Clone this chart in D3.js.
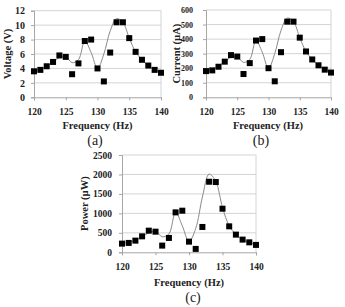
<!DOCTYPE html>
<html>
<head>
<meta charset="utf-8">
<script src="https://cdn.jsdelivr.net/npm/d3@7"></script>
<style>
  body { margin: 0; background: #fff; }
  svg { display: block; }
  text { font-family: "Liberation Serif", "Times New Roman", serif; fill: #222; }
</style>
</head>
<body>
<svg id="chart" width="345" height="307"></svg>
<script>
const freq = [120,121,122,123,124,125,126,127,128,129,130,131,132,133,134,135,136,137,138,139,140];

// medidas (quadrados)
const voltage = [3.6,3.8,4.3,4.9,5.8,5.6,3.2,4.7,7.8,8.0,4.0,2.2,6.2,10.4,10.4,8.2,6.3,5.2,4.4,3.8,3.4];
const current = [180,185,210,245,290,280,160,235,390,400,200,110,310,520,520,410,315,260,220,190,170];
const power = [223,241,300,410,556,530,172,369,1026,1069,274,87,651,1813,1805,1120,667,454,326,256,190];

// curvas ajustadas
const voltageFit = [3.7,3.9,4.3,4.9,5.5,5.6,4.8,5.2,7.8,6.2,4.0,6.0,9.2,10.9,10.4,8.2,6.3,5.2,4.4,3.8,3.4];
const currentFit = [185,195,215,245,275,280,240,260,390,310,200,300,460,545,520,410,315,260,220,190,170];
const powerFit = [235,260,310,400,500,540,400,470,1030,680,275,610,1420,2010,1820,1150,680,460,330,250,200];

const xTicks = [120,125,130,135,140];
const voltageTicks = [0,2,4,6,8,10,12];
const currentTicks = [0,100,200,300,400,500,600];
const powerTicks = [0,500,1000,1500,2000,2500];

const svg = d3.select("#chart");

function painel(cfg) {
  const x = d3.scaleLinear().domain([120,140]).range(cfg.xr);
  const y = d3.scaleLinear().domain([0, d3.max(cfg.yTicks)]).range(cfg.yr);
  const g = svg.append("g");

  // grade
  g.selectAll(".grid")
    .data(cfg.yTicks.slice(1))
    .enter()
    .append("line")
    .attr("x1", cfg.xr[0]).attr("x2", cfg.xr[1])
    .attr("y1", d => y(d)).attr("y2", d => y(d))
    .attr("stroke", "#d4d4d4").attr("stroke-width", 1);

  g.append("line")
    .attr("x1", cfg.xr[1]).attr("x2", cfg.xr[1])
    .attr("y1", cfg.yr[0]).attr("y2", cfg.yr[1])
    .attr("stroke", "#d4d4d4");

  // eixos
  const yAxis = g.append("g")
    .attr("transform", `translate(${cfg.xr[0]},0)`)
    .call(d3.axisLeft(y).tickValues(cfg.yTicks).tickFormat(d3.format("d")).tickSize(3).tickPadding(cfg.pad));
  const xAxis = g.append("g")
    .attr("transform", `translate(0,${cfg.yr[0]})`)
    .call(d3.axisBottom(x).tickValues(xTicks).tickSize(3).tickPadding(8));

  [[yAxis, cfg.yfs], [xAxis, 9.5]].forEach(([a, fs]) => {
    a.selectAll("path, line").attr("stroke", "#a6a6a6");
    a.selectAll("text")
      .attr("fill", "#222")
      .style("font-family", '"Liberation Serif", serif')
      .style("font-weight", "bold")
      .style("font-size", fs + "px");
  });

  // curva
  const linha = d3.line()
    .x((d, i) => x(freq[i]))
    .y(d => y(d))
    .curve(d3.curveCatmullRom.alpha(0.5));

  g.append("path")
    .datum(cfg.fit)
    .attr("d", linha)
    .attr("fill", "none")
    .attr("stroke", "#8a8a8a")
    .attr("stroke-width", 1);

  // pontos
  g.selectAll(".pt")
    .data(cfg.vals)
    .enter()
    .append("rect")
    .attr("x", (d, i) => x(freq[i]) - 3)
    .attr("y", d => y(d) - 3)
    .attr("width", 6).attr("height", 6)
    .attr("fill", "#000");

  // textos
  g.append("text")
    .attr("transform", `translate(${cfg.ytX},${(cfg.yr[0] + cfg.yr[1]) / 2}) rotate(-90)`)
    .attr("text-anchor", "middle")
    .style("font-weight", "bold")
    .style("font-size", "10.5px")
    .text(cfg.ytitle);

  g.append("text")
    .attr("x", cfg.xtX).attr("y", cfg.xtY)
    .attr("text-anchor", "middle")
    .style("font-weight", "bold")
    .style("font-size", "10.5px")
    .text("Frequency (Hz)");

  g.append("text")
    .attr("x", cfg.lbX).attr("y", cfg.xtY + 16)
    .attr("text-anchor", "middle")
    .style("font-size", "14px")
    .text(cfg.label);
}

painel({ xr: [34,161], yr: [97.3,10.7], yTicks: voltageTicks, pad: 6, yfs: 10,
  vals: voltage, fit: voltageFit, ytitle: "Voltage (V)", ytX: 11,
  xtX: 97.5, xtY: 128.5, lbX: 95, label: "(a)" });

painel({ xr: [206,331], yr: [97.3,10], yTicks: currentTicks, pad: 10, yfs: 8,
  vals: current, fit: currentFit, ytitle: "Current (\u00b5A)", ytX: 179.5,
  xtX: 268, xtY: 128.5, lbX: 261, label: "(b)" });

painel({ xr: [122,256], yr: [252.3,155], yTicks: powerTicks, pad: 7, yfs: 9.5,
  vals: power, fit: powerFit, ytitle: "Power (\u00b5W)", ytX: 87.5,
  xtX: 189, xtY: 286, lbX: 193, label: "(c)" });
</script>
</body>
</html>
